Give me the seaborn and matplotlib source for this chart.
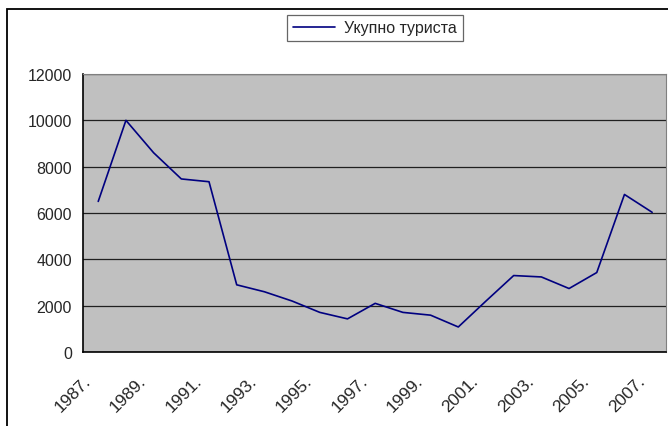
import numpy as np
import pandas as pd
import seaborn as sns
import matplotlib.pyplot as plt
from matplotlib.patches import Rectangle

# data
years = list(range(1987, 2008))
tourists = [6500, 10000, 8600, 7470, 7350, 2900, 2600, 2200, 1710, 1430, 2100,
            1710, 1590, 1080, 2200, 3300, 3240, 2740, 3430, 6800, 6030]
series_name = "Укупно туриста"
year_labels = [f"{y}." for y in years]

df = pd.DataFrame({"pos": np.arange(len(years)), "value": tourists, "series": series_name})

sns.set_style("white")
plt.rcParams['font.family'] = ['Liberation Sans', 'DejaVu Sans']

fig = plt.figure(figsize=(6.68, 4.27), dpi=100)
ax = fig.add_axes([83 / 668, 1 - 353 / 427, (666 - 83) / 668, (353 - 75) / 427])
ax.set_facecolor("#C0C0C0")

sns.lineplot(data=df, x="pos", y="value", hue="series", palette=["#000080"],
             linewidth=1.2, ax=ax, legend=False)

ax.set_xlim(-0.5, len(years) - 0.5)
ax.set_ylim(0, 12000)
ax.set_yticks(range(0, 12001, 2000))
ax.yaxis.grid(True, color="#202020", linewidth=0.9)
ax.set_axisbelow(True)

# ticks at category boundaries; rotated labels anchored a little left of every other category
ax.set_xticks(np.arange(-0.5, len(years), 1.0))
ax.set_xticklabels([])
ax.set_xticks(np.arange(0, len(years), 2) - 0.55, minor=True)
ax.set_xticklabels(year_labels[::2], minor=True, rotation=45, ha="right",
                   rotation_mode="anchor", fontsize=12.5)
ax.tick_params(axis="x", which="major", direction="out", length=5, width=1, color="black")
ax.tick_params(axis="x", which="minor", length=0, pad=15)
ax.tick_params(axis="y", direction="out", length=5, width=1, color="black", labelsize=11.5, pad=3)
ax.set_xlabel("")
ax.set_ylabel("")

for side in ["top", "right"]:
    ax.spines[side].set_color("#808080")
for side in ["left", "bottom"]:
    ax.spines[side].set_color("black")
    ax.spines[side].set_linewidth(1.2)

# legend at the top
handle = plt.Line2D([], [], color="#000080", linewidth=1.2)
leg = fig.legend([handle], [series_name], loc="center", bbox_to_anchor=(375 / 668, 1 - 29 / 427),
                 frameon=True, fancybox=False, fontsize=11.5, handlelength=2.6,
                 borderpad=0.35, handletextpad=0.6)
leg.get_frame().set_edgecolor("#404040")
leg.get_frame().set_linewidth(0.9)

# outer chart frame (extends beyond the image on the right and bottom)
fig.patches.append(Rectangle((7 / 668, -0.1), 1.2, 1 - 10 / 427 + 0.1, transform=fig.transFigure,
                             fill=False, edgecolor="black", linewidth=1.3))

fig.savefig("out.png", dpi=100)
